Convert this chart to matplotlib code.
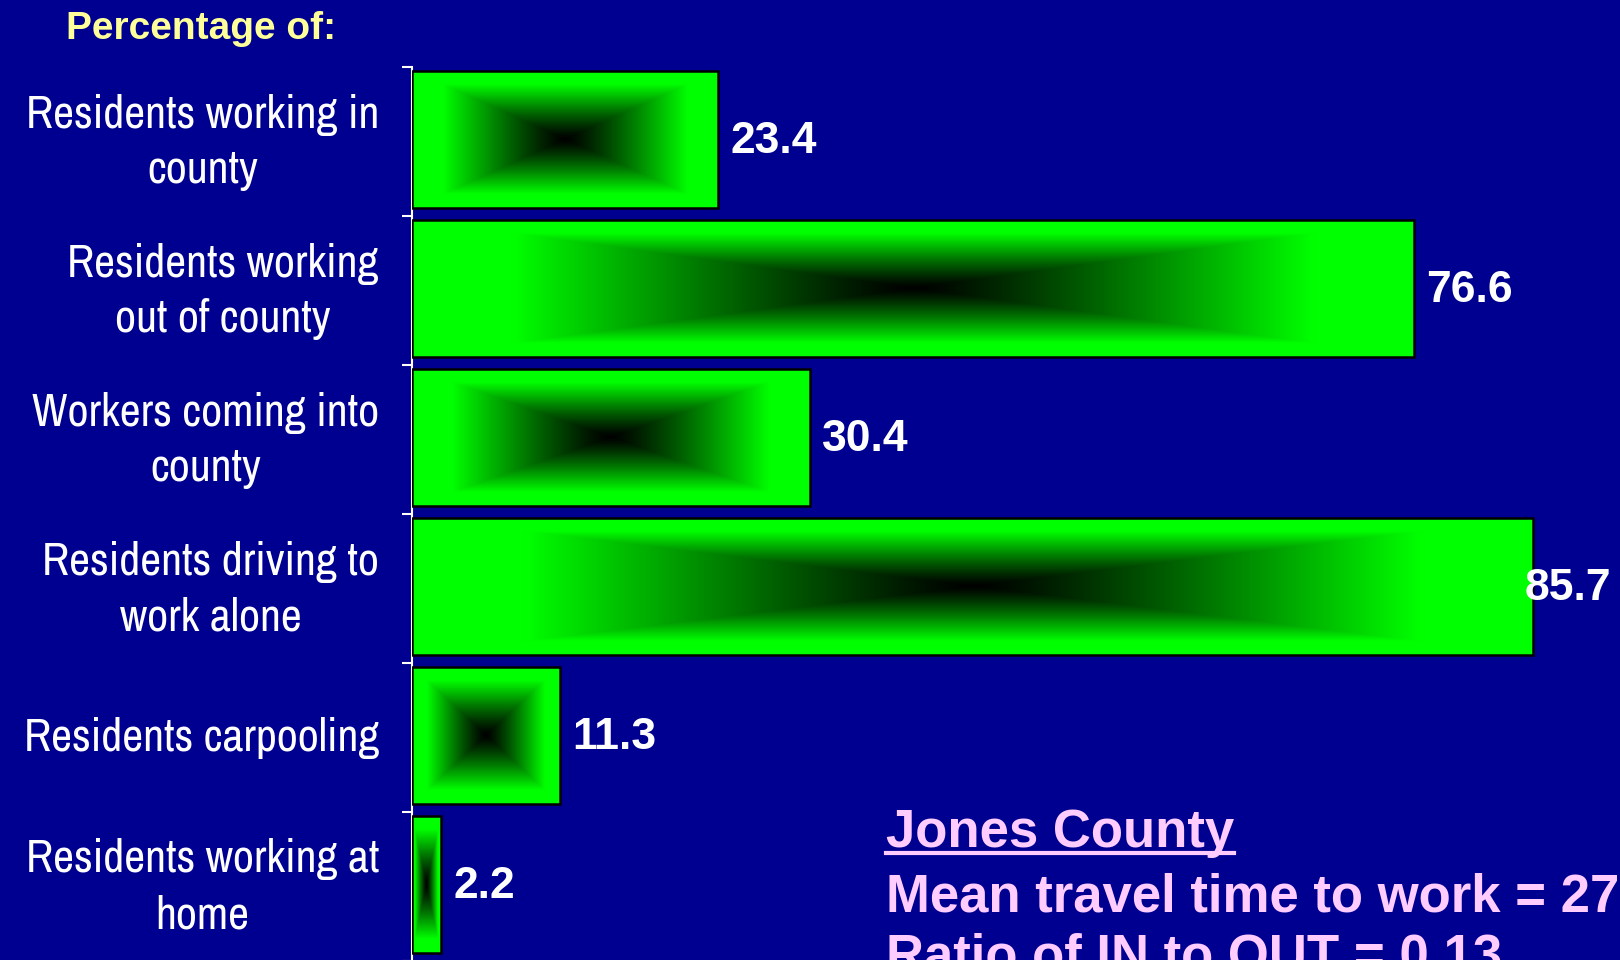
import numpy as np
import matplotlib.pyplot as plt
from matplotlib.lines import Line2D

# --- données ---
categories = [
    "Residents working in\ncounty",
    "Residents working\nout of county",
    "Workers coming into\ncounty",
    "Residents driving to\nwork alone",
    "Residents carpooling",
    "Residents working at\nhome",
]
valeurs = [23.4, 76.6, 30.4, 85.7, 11.3, 2.2]
titre = "Percentage of:"
lignes_info = ["Jones County", "Mean travel time to work = 27", "Ratio of IN to OUT = 0.13"]

fond = "#000090"
narrow = ["Archivo Narrow", "Liberation Sans", "DejaVu Sans"]
arial = ["Liberation Sans", "DejaVu Sans"]

fig = plt.figure(figsize=(16.2, 9.6), dpi=100, facecolor=fond)
ax = fig.add_axes([0.2543, -0.001, 0.7457, 0.931])
ax.set_facecolor(fond)

y = np.arange(len(categories))
xmax = 92.35
ax.set_xlim(0, xmax)
ax.set_ylim(len(categories) - 0.5, -0.5)

# dégradé "rectangle" : noir au centre, vert sur les bords
n = 200
u = np.linspace(-1, 1, n)
U, V = np.meshgrid(u, u)
t = np.maximum(np.abs(U), np.abs(V))
g = np.clip(t / 0.8, 0, 1) ** 1.2
img = np.zeros((n, n, 3))
img[..., 1] = g

barres = ax.barh(y - 0.015, valeurs, height=0.92, facecolor="none", edgecolor="black",
                 linewidth=1.8, zorder=3)
for b in barres:
    x0, y0 = b.get_x(), b.get_y()
    w, h = b.get_width(), b.get_height()
    im = ax.imshow(img, extent=(x0, x0 + w, y0 + h, y0), aspect="auto",
                   interpolation="bilinear", zorder=2)
    im.set_clip_path(b)

# valeurs
for yi, v in zip(y, valeurs):
    if v + 9 > xmax:
        ax.text(xmax - 0.7, yi, f"{v}", ha="right", va="center", color="white",
                fontsize=32, fontweight="bold", family=arial, zorder=4)
    else:
        ax.text(v + 0.95, yi, f"{v}", ha="left", va="center", color="white",
                fontsize=32, fontweight="bold", family=arial, zorder=4)

# libellés des catégories (texte à gauche de l'axe)
for yi, cat in zip(y, categories):
    ax.text(-0.0273, yi + 0.005, cat, transform=ax.get_yaxis_transform(),
            ha="right", va="center", multialignment="center", color="white",
            fontsize=33, family=narrow, linespacing=1.4, clip_on=False)

# axe
ax.set_xticks([])
ax.set_yticks(np.arange(-0.5, len(categories), 1))
ax.set_yticklabels([])
ax.tick_params(axis="y", which="major", length=7.5, width=1.5, color="white")
for s in ["top", "right", "bottom"]:
    ax.spines[s].set_visible(False)
ax.spines["left"].set_color("white")
ax.spines["left"].set_linewidth(1.5)

# titre
fig.text(0.124, 0.970, titre, ha="center", va="center", color="#FFFF99",
         fontsize=28, fontweight="bold", family=arial)

# bloc d'information en bas à droite
rose = "#FFCCFF"
bases = [0.1177, 0.051, -0.0125]
txts = []
for lig, yb in zip(lignes_info, bases):
    txts.append(fig.text(0.547, yb, lig, ha="left", va="baseline", color=rose,
                         fontsize=38, fontweight="bold", family=arial))

fig.canvas.draw()
bb = txts[0].get_window_extent().transformed(fig.transFigure.inverted())
fig.add_artist(Line2D([bb.x0, bb.x1], [bases[0] - 0.0065, bases[0] - 0.0065],
                      transform=fig.transFigure, color=rose, linewidth=3))

plt.savefig("out.png", facecolor=fond)
